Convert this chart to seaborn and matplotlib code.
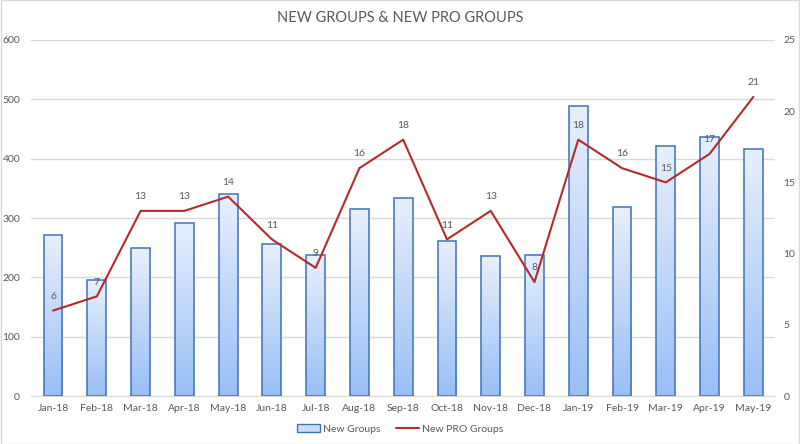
import numpy as np
import pandas as pd
import matplotlib
matplotlib.use("Agg")
import matplotlib.pyplot as plt
import seaborn as sns
from matplotlib.patches import Patch
from matplotlib.lines import Line2D

months = ["Jan-18", "Feb-18", "Mar-18", "Apr-18", "May-18", "Jun-18", "Jul-18", "Aug-18",
          "Sep-18", "Oct-18", "Nov-18", "Dec-18", "Jan-19", "Feb-19", "Mar-19", "Apr-19", "May-19"]
new_groups = [271, 195, 250, 292, 341, 256, 237, 315, 334, 261, 236, 237, 488, 318, 421, 437, 417]
new_pro_groups = [6, 7, 13, 13, 14, 11, 9, 16, 18, 11, 13, 8, 18, 16, 15, 17, 21]

df = pd.DataFrame({"month": months, "groups": new_groups, "pro": new_pro_groups})

sns.set_style("white")
plt.rcParams["font.family"] = ["Lato", "DejaVu Sans"]
grey = "#595959"

fig = plt.figure(figsize=(8, 4.44), dpi=100)
ax = fig.add_axes([0.039, 0.108, 0.93, 0.802])

sns.barplot(data=df, x="month", y="groups", ax=ax, width=0.43,
            color="#c9dcfb", edgecolor="#3f72b8", linewidth=1.1, zorder=3)

# vertical gradient inside each bar, light at the top
grad = np.linspace(0, 1, 256).reshape(-1, 1)
cmap = matplotlib.colors.LinearSegmentedColormap.from_list("g", ["#e8f0fe", "#99bff5"])
for p in ax.patches:
    x0, y0 = p.get_x(), p.get_y()
    w, h = p.get_width(), p.get_height()
    im = ax.imshow(grad, extent=[x0, x0 + w, y0, y0 + h], aspect="auto", cmap=cmap,
                   origin="upper", zorder=3.5)
    im.set_clip_path(p)
    p.set_facecolor("none")
    p.set_zorder(4)

ax.set_xlim(-0.5, len(months) - 0.5)
ax.set_ylim(0, 600)
ax.set_yticks(range(0, 601, 100))
ax.yaxis.grid(True, color="#d9d9d9", linewidth=1, zorder=0)
ax.set_axisbelow(True)
ax.set_xlabel("")
ax.set_ylabel("")
for s in ["top", "right", "left"]:
    ax.spines[s].set_visible(False)
ax.spines["bottom"].set_color("#d9d9d9")
ax.tick_params(axis="y", length=0, labelsize=7.5, labelcolor=grey, pad=8)
ax.tick_params(axis="x", length=0, labelsize=7.5, labelcolor=grey, pad=6)
ax.set_xticks(np.arange(-0.5, len(months), 1.0), minor=True)
ax.tick_params(axis="x", which="minor", length=4, color="#d9d9d9", direction="out")

ax2 = ax.twinx()
sns.lineplot(x=np.arange(len(months)), y=new_pro_groups, ax=ax2, color="#b52a2a",
             linewidth=1.5, zorder=5)
ax2.set_ylim(0, 25)
ax2.set_yticks(range(0, 26, 5))
ax2.tick_params(axis="y", length=0, labelsize=7.5, labelcolor=grey, pad=6)
for s in ax2.spines.values():
    s.set_visible(False)
for i, v in enumerate(new_pro_groups):
    ax2.annotate(str(v), (i, v), xytext=(0, 7), textcoords="offset points",
                 ha="center", va="bottom", fontsize=7.5, color=grey)

fig.suptitle("NEW GROUPS & NEW PRO GROUPS", y=0.975, fontsize=10.5, color=grey)

handles = [Patch(facecolor="#c9dcfb", edgecolor="#3f72b8", label="New Groups"),
           Line2D([0], [0], color="#b52a2a", linewidth=1.5, label="New PRO Groups")]
fig.legend(handles=handles, loc="center", bbox_to_anchor=(0.5, 0.034), ncol=2,
           frameon=False, fontsize=7.5, labelcolor=grey, handlelength=2.2,
           handletextpad=0.3, columnspacing=1.5)

fig.patches.append(matplotlib.patches.Rectangle((0.001, 0.001), 0.998, 0.998,
                   transform=fig.transFigure, fill=False, edgecolor="#d9d9d9", linewidth=1))

fig.savefig("out.png", dpi=100)
